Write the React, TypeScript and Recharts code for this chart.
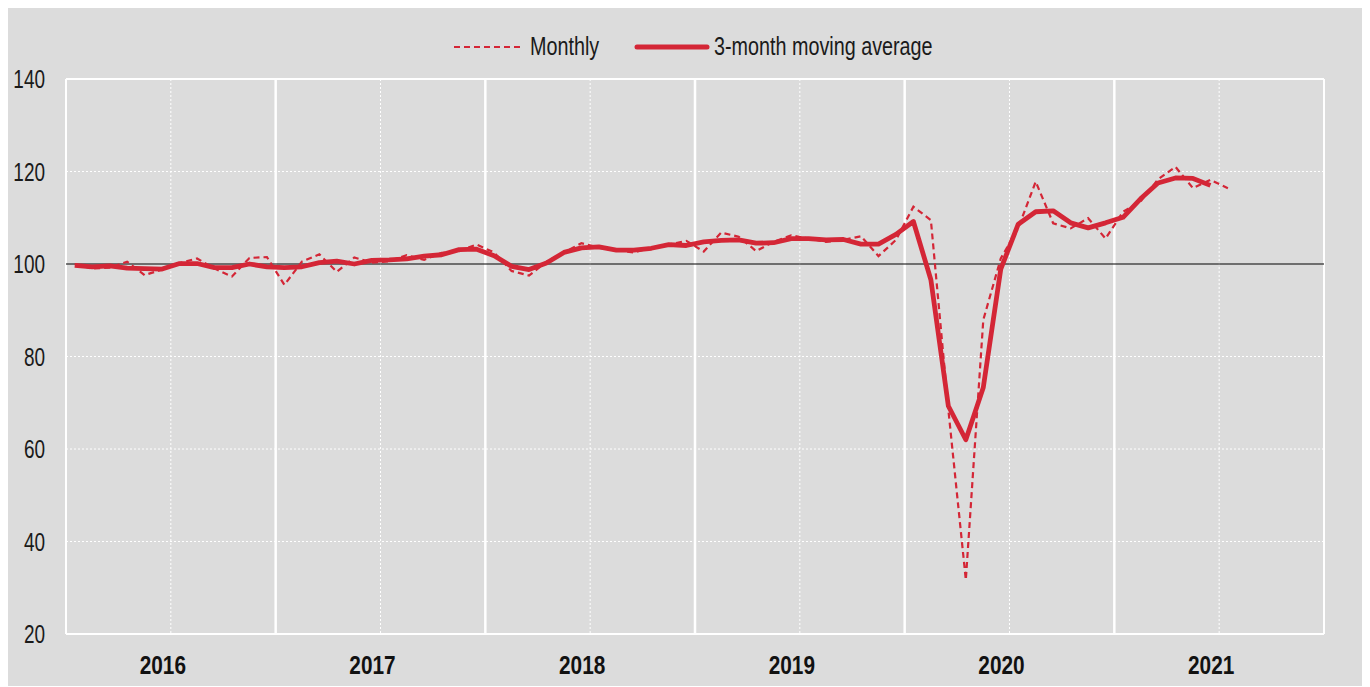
import { LineChart, Line, XAxis, YAxis, CartesianGrid } from 'recharts';

const FONT = "'Liberation Sans', Arial, sans-serif";
const RED = '#d42636';

const YEARS = ['2016', '2017', '2018', '2019', '2020', '2021'];

// index 0 = Jan 2016, last monthly point = Jul 2021
const MONTHLY = [
  100.0, 99.0, 99.2, 100.5, 97.6, 98.8, 100.2, 101.2, 99.0, 97.3, 101.3, 101.5,
  95.5, 100.5, 102.1, 98.3, 101.4, 100.3, 100.6, 101.9, 100.9, 102.4, 102.8, 104.2,
  102.5, 98.5, 97.5, 100.5, 102.5, 104.5, 103.5, 103.0, 102.5, 103.5, 104.2, 105.0,
  102.7, 106.8, 105.9, 102.8, 104.8, 106.2, 105.5, 104.8, 105.2, 106.0, 101.7, 105.2,
  112.4, 109.5, 68.5, 31.7, 87.9, 101.2, 107.8, 117.8, 108.8, 107.7, 109.9, 105.5,
  111.3, 113.5, 118.3, 121.0, 116.4, 118.2, 116.4,
];

// centred 3-month average, ends Jun 2021
const MOVING_AVG = [
  99.7, 99.4, 99.6, 99.1, 99.0, 98.9, 100.1, 100.1, 99.2, 99.2, 100.0, 99.4,
  99.2, 99.4, 100.3, 100.6, 100.0, 100.8, 100.9, 101.1, 101.7, 102.0, 103.1, 103.2,
  101.8, 99.5, 98.8, 100.2, 102.5, 103.5, 103.7, 103.0, 103.0, 103.4, 104.2, 104.0,
  104.8, 105.1, 105.2, 104.5, 104.6, 105.5, 105.5, 105.2, 105.3, 104.3, 104.3, 106.4,
  109.2, 96.6, 69.3, 62.0, 73.3, 98.9, 108.6, 111.3, 111.5, 108.9, 107.8, 108.9,
  110.1, 114.1, 117.5, 118.6, 118.5, 117.0,
];

const Y_TICKS = [20, 40, 60, 80, 100, 120, 140];
const YEAR_MIDS = YEARS.map((_, i) => i * 12 + 6);
const YEAR_EDGES = [12, 24, 36, 48, 60];

const data = MONTHLY.map((v, i) => ({
  x: i + 0.5,
  monthly: v,
  avg: i < MOVING_AVG.length ? MOVING_AVG[i] : null,
}));

const squeeze = (x: number, y: number, s: number) => `translate(${x},${y}) scale(${s},1) translate(${-x},${-y})`;

function YTick(props: any) {
  const { x, y, payload } = props;
  return (
    <text x={x} y={y} dy="0.36em" textAnchor="end" fontSize={26} fill="#1a1a1a" fontFamily={FONT} transform={squeeze(x, y, 0.73)}>
      {payload.value}
    </text>
  );
}

function XTick(props: any) {
  const { x, y, payload } = props;
  const cx = x - 8;
  return (
    <text x={cx} y={y} dy="0.71em" textAnchor="middle" fontSize={26} fontWeight="bold" fill="#111" fontFamily={FONT} transform={squeeze(cx, y, 0.8)}>
      {YEARS[Math.floor(payload.value / 12)]}
    </text>
  );
}

function LegendBox() {
  const txt = { position: 'absolute' as const, top: 25, fontFamily: FONT, fontSize: 26, color: '#1a1a1a', transform: 'scaleX(0.76)', transformOrigin: 'left center', whiteSpace: 'nowrap' as const, lineHeight: '26px' };
  return (
    <div style={{ position: 'absolute', left: 0, top: 0, width: 1360, height: 60 }}>
      <svg width={72} height={10} style={{ position: 'absolute', left: 447, top: 34 }}>
        <line x1={1} y1={5} x2={70} y2={5} stroke={RED} strokeWidth={2.2} strokeDasharray="6 4" />
      </svg>
      <span style={{ ...txt, left: 524 }}>Monthly</span>
      <svg width={76} height={12} style={{ position: 'absolute', left: 628, top: 33 }}>
        <line x1={3} y1={6} x2={73} y2={6} stroke={RED} strokeWidth={5} strokeLinecap="round" />
      </svg>
      <span style={{ ...txt, left: 708 }}>3-month moving average</span>
    </div>
  );
}

export default function App() {
  return (
    <div style={{ position: 'relative', marginLeft: -2, width: 1360, height: 678, background: '#dcdcdc' }}>
      <LegendBox />
      <LineChart width={1360} height={678} data={data} margin={{ top: 71, right: 42, bottom: 0, left: 0 }}>
        <CartesianGrid vertical={false} horizontalValues={[40, 60, 80, 120]} stroke="#fff" strokeDasharray="2 2" />
        <CartesianGrid horizontal={false} verticalValues={YEAR_MIDS} stroke="#fff" strokeDasharray="2 2" />
        <CartesianGrid horizontal={false} verticalValues={YEAR_EDGES} stroke="#fff" strokeWidth={2.5} />
        <CartesianGrid horizontalValues={[20, 140]} verticalValues={[0, 72]} stroke="#fff" strokeWidth={2} />
        <CartesianGrid vertical={false} horizontalValues={[100]} stroke="#000" strokeWidth={1} />
        <XAxis
          dataKey="x"
          type="number"
          domain={[0, 72]}
          ticks={YEAR_MIDS}
          axisLine={false}
          tickLine={false}
          tickSize={0}
          tickMargin={22}
          height={52}
          tick={XTick}
        />
        <YAxis
          domain={[20, 140]}
          ticks={Y_TICKS}
          axisLine={false}
          tickLine={false}
          tickSize={0}
          tickMargin={21}
          width={60}
          tick={YTick}
        />
        <Line dataKey="monthly" stroke={RED} strokeWidth={2.2} strokeDasharray="6 4" dot={false} isAnimationActive={false} />
        <Line dataKey="avg" stroke={RED} strokeWidth={4.8} dot={false} isAnimationActive={false} strokeLinejoin="round" />
      </LineChart>
    </div>
  );
}
